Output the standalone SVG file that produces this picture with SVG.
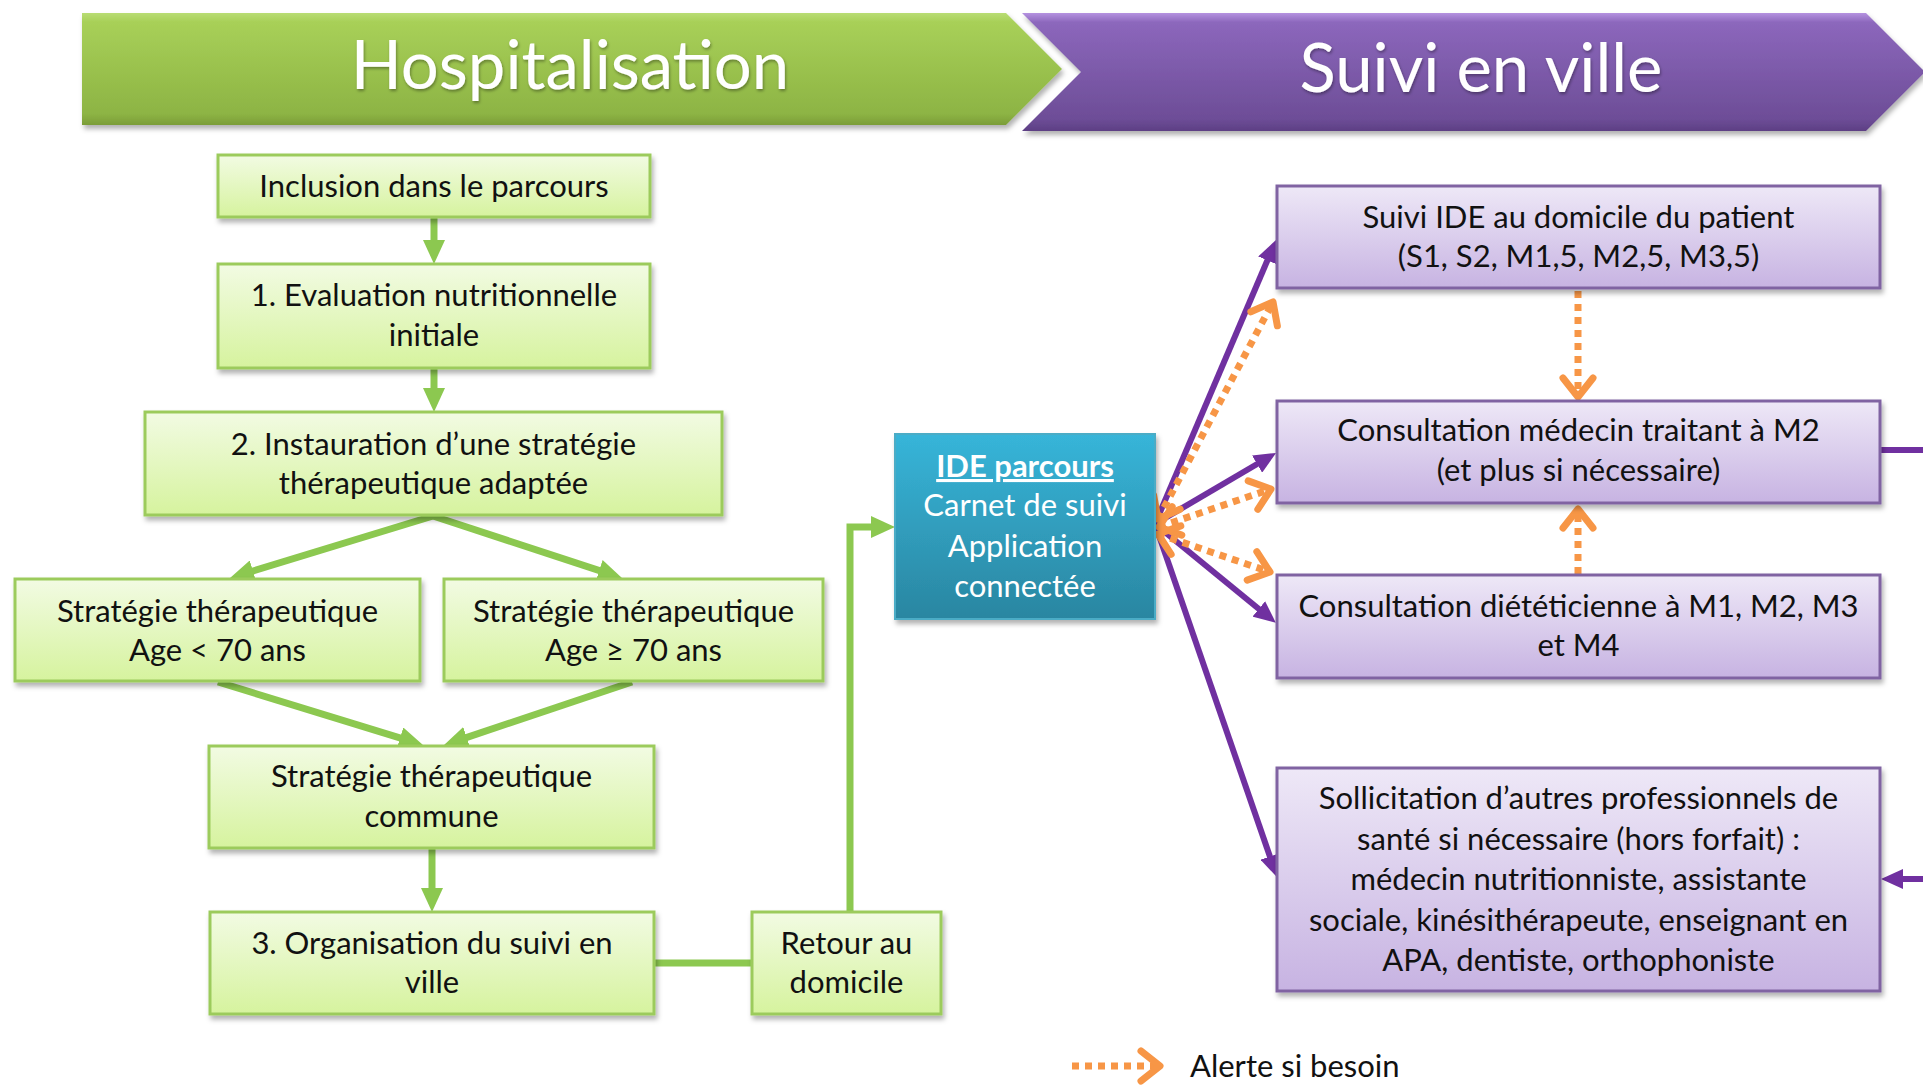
<svg xmlns="http://www.w3.org/2000/svg" width="1923" height="1085" viewBox="0 0 1923 1085">
<style>
  .t { font-family: Lato, "Liberation Sans", sans-serif; font-size: 31px; fill: #111; text-anchor: middle; }
  .w { font-family: Lato, "Liberation Sans", sans-serif; font-size: 31px; fill: #ffffff; text-anchor: middle; }
  .ban { font-family: Lato, "Liberation Sans", sans-serif; font-size: 67px; fill: #ffffff; text-anchor: middle; }
  .gbox { fill: url(#gGreen); stroke: #9ccb5c; stroke-width: 3; filter: url(#sh); }
  .pbox { fill: url(#gPurple); stroke: #8064a2; stroke-width: 3; filter: url(#sh); }
  .gl { stroke: #8cc850; stroke-width: 7; fill: none; }
  .pl { stroke: #7030a0; stroke-width: 6; fill: none; }
  .ol { stroke: #f79646; stroke-width: 7; stroke-dasharray: 7 6; fill: none; }
</style>
<defs>
  <linearGradient id="gGreen" x1="0" y1="0" x2="0" y2="1">
    <stop offset="0" stop-color="#f2fbe3"/>
    <stop offset="1" stop-color="#d6f39e"/>
  </linearGradient>
  <linearGradient id="gPurple" x1="0" y1="0" x2="0" y2="1">
    <stop offset="0" stop-color="#eee8f7"/>
    <stop offset="1" stop-color="#c7b3e2"/>
  </linearGradient>
  <linearGradient id="gBlue" x1="0" y1="0" x2="0" y2="1">
    <stop offset="0" stop-color="#37b5d9"/>
    <stop offset="1" stop-color="#2a86a1"/>
  </linearGradient>
  <linearGradient id="gBanG" x1="0" y1="0" x2="0" y2="1">
    <stop offset="0" stop-color="#b9dd74"/>
    <stop offset="0.08" stop-color="#a8d058"/>
    <stop offset="0.9" stop-color="#8db444"/>
    <stop offset="1" stop-color="#7b9d38"/>
  </linearGradient>
  <linearGradient id="gBanP" x1="0" y1="0" x2="0" y2="1">
    <stop offset="0" stop-color="#b592e0"/>
    <stop offset="0.08" stop-color="#8c67bc"/>
    <stop offset="0.9" stop-color="#6d4d97"/>
    <stop offset="1" stop-color="#5d3f84"/>
  </linearGradient>
  <filter id="sh" x="-10%" y="-10%" width="125%" height="135%">
    <feDropShadow dx="2" dy="4" stdDeviation="2.5" flood-color="#000" flood-opacity="0.3"/>
  </filter>
  <filter id="tsh" x="-5%" y="-20%" width="110%" height="140%">
    <feDropShadow dx="1" dy="2" stdDeviation="1.5" flood-color="#000" flood-opacity="0.35"/>
  </filter>
  <marker id="ag" viewBox="0 0 24 22" markerUnits="userSpaceOnUse" markerWidth="24" markerHeight="22" refX="10" refY="11" orient="auto">
    <path d="M0,0 L24,11 L0,22 z" fill="#8cc850"/>
  </marker>
  <marker id="ap" viewBox="0 0 22 20" markerUnits="userSpaceOnUse" markerWidth="22" markerHeight="20" refX="8" refY="10" orient="auto">
    <path d="M0,0 L22,10 L0,20 z" fill="#7030a0"/>
  </marker>
  <marker id="ao" viewBox="-5 -5 32 40" markerUnits="userSpaceOnUse" markerWidth="32" markerHeight="40" refX="20" refY="15" orient="auto-start-reverse">
    <path d="M1,0 L20,15 L1,30" fill="none" stroke="#f79646" stroke-width="7" stroke-linecap="round" stroke-linejoin="round"/>
  </marker>
</defs>

<rect width="1923" height="1085" fill="#ffffff"/>

<!-- Banners -->
<g id="banner-hospitalisation">
  <polygon points="82,13 1006,13 1062,69 1006,125 82,125" fill="url(#gBanG)" filter="url(#sh)"/>
  <text class="ban" x="570" y="89" filter="url(#tsh)">Hospitalisation</text>
</g>
<g id="banner-suivi">
  <polygon points="1022,13 1866,13 1925,72 1866,131 1022,131 1081,72" fill="url(#gBanP)" filter="url(#sh)"/>
  <text class="ban" x="1481" y="92" filter="url(#tsh)">Suivi en ville</text>
</g>

<!-- Connectors -->
<g id="connectors">
  <line class="gl" x1="434" y1="217" x2="434" y2="250" marker-end="url(#ag)"/>
  <line class="gl" x1="434" y1="368" x2="434" y2="398" marker-end="url(#ag)"/>
  <line class="gl" x1="433" y1="516" x2="243.4" y2="573.9" marker-end="url(#ag)"/>
  <line class="gl" x1="433" y1="516" x2="608.7" y2="573.6" marker-end="url(#ag)"/>
  <line class="gl" x1="218" y1="682" x2="409.6" y2="740.9" marker-end="url(#ag)"/>
  <line class="gl" x1="632" y1="682" x2="457.3" y2="740.6" marker-end="url(#ag)"/>
  <line class="gl" x1="432" y1="848" x2="432" y2="898" marker-end="url(#ag)"/>
  <line class="gl" x1="654" y1="963" x2="752" y2="963" stroke-width="9"/>
  <polyline class="gl" points="850,912 850,527 881,527" marker-end="url(#ag)"/>

  <line class="pl" x1="1155" y1="524" x2="1270.5" y2="253" marker-end="url(#ap)"/>
  <line class="pl" x1="1155" y1="524" x2="1264" y2="460" marker-end="url(#ap)"/>
  <line class="pl" x1="1155" y1="524" x2="1265" y2="614" marker-end="url(#ap)"/>
  <line class="pl" x1="1155" y1="524" x2="1272.5" y2="864" marker-end="url(#ap)"/>
  <line class="pl" x1="1880" y1="450" x2="1923" y2="450"/>
  <line class="pl" x1="1923" y1="879" x2="1895" y2="879" marker-end="url(#ap)"/>

  <line class="ol" x1="1158" y1="519" x2="1273" y2="302" marker-start="url(#ao)" marker-end="url(#ao)"/>
  <line class="ol" x1="1159" y1="527" x2="1271" y2="489" marker-start="url(#ao)" marker-end="url(#ao)"/>
  <line class="ol" x1="1158" y1="534" x2="1270" y2="572" marker-start="url(#ao)" marker-end="url(#ao)"/>
  <line class="ol" x1="1578" y1="291" x2="1578" y2="397" marker-end="url(#ao)"/>
  <line class="ol" x1="1578" y1="574" x2="1578" y2="509" marker-end="url(#ao)"/>
</g>

<!-- Hospitalisation nodes -->
<g id="inclusion">
  <rect class="gbox" x="218" y="155" width="432" height="62"/>
  <text class="t" x="434" y="197">Inclusion dans le parcours</text>
</g>
<g id="evaluation">
  <rect class="gbox" x="218" y="264" width="432" height="104"/>
  <text class="t" x="434" y="306">1. Evaluation nutritionnelle</text>
  <text class="t" x="434" y="346">initiale</text>
</g>
<g id="instauration">
  <rect class="gbox" x="145" y="412" width="577" height="103"/>
  <text class="t" x="433.5" y="455">2. Instauration d’une stratégie</text>
  <text class="t" x="433.5" y="494">thérapeutique adaptée</text>
</g>
<g id="strategie-moins-70">
  <rect class="gbox" x="15" y="579" width="405" height="102"/>
  <text class="t" x="217.5" y="622">Stratégie thérapeutique</text>
  <text class="t" x="217.5" y="661">Age &lt; 70 ans</text>
</g>
<g id="strategie-plus-70">
  <rect class="gbox" x="444" y="579" width="379" height="102"/>
  <text class="t" x="633.5" y="622">Stratégie thérapeutique</text>
  <text class="t" x="633.5" y="661">Age ≥ 70 ans</text>
</g>
<g id="strategie-commune">
  <rect class="gbox" x="209" y="746" width="445" height="102"/>
  <text class="t" x="431.5" y="787">Stratégie thérapeutique</text>
  <text class="t" x="431.5" y="827">commune</text>
</g>
<g id="organisation">
  <rect class="gbox" x="210" y="912" width="444" height="102"/>
  <text class="t" x="432" y="954">3. Organisation du suivi en</text>
  <text class="t" x="432" y="993">ville</text>
</g>
<g id="retour">
  <rect class="gbox" x="752" y="912" width="189" height="102"/>
  <text class="t" x="846.5" y="954">Retour au</text>
  <text class="t" x="846.5" y="993">domicile</text>
</g>

<!-- IDE parcours -->
<g id="ide-parcours">
  <rect x="895" y="434" width="260" height="185" fill="url(#gBlue)" stroke="#4bacc6" stroke-width="2" filter="url(#sh)"/>
  <text class="w" x="1025" y="477" font-weight="bold" text-decoration="underline">IDE parcours</text>
  <text class="w" x="1025" y="516">Carnet de suivi</text>
  <text class="w" x="1025" y="557">Application</text>
  <text class="w" x="1025" y="597">connectée</text>
</g>

<!-- Suivi en ville nodes -->
<g id="suivi-ide">
  <rect class="pbox" x="1277" y="186" width="603" height="102"/>
  <text class="t" x="1578.5" y="228">Suivi IDE au domicile du patient</text>
  <text class="t" x="1578.5" y="267">(S1, S2, M1,5, M2,5, M3,5)</text>
</g>
<g id="medecin-traitant">
  <rect class="pbox" x="1277" y="401" width="603" height="102"/>
  <text class="t" x="1578.5" y="441">Consultation médecin traitant à M2</text>
  <text class="t" x="1578.5" y="481">(et plus si nécessaire)</text>
</g>
<g id="dieteticienne">
  <rect class="pbox" x="1277" y="575" width="603" height="103"/>
  <text class="t" x="1578.5" y="617">Consultation diététicienne à M1, M2, M3</text>
  <text class="t" x="1578.5" y="656">et M4</text>
</g>
<g id="sollicitation">
  <rect class="pbox" x="1277" y="768" width="603" height="223"/>
  <text class="t" x="1578.5" y="809">Sollicitation d’autres professionnels de</text>
  <text class="t" x="1578.5" y="850">santé si nécessaire (hors forfait) :</text>
  <text class="t" x="1578.5" y="890">médecin nutritionniste, assistante</text>
  <text class="t" x="1578.5" y="931">sociale, kinésithérapeute, enseignant en</text>
  <text class="t" x="1578.5" y="971">APA, dentiste, orthophoniste</text>
</g>

<!-- Legend -->
<g id="legend">
  <line class="ol" x1="1072" y1="1066" x2="1160" y2="1066" marker-end="url(#ao)"/>
  <text class="t" x="1190" y="1077" style="text-anchor:start">Alerte si besoin</text>
</g>
</svg>
